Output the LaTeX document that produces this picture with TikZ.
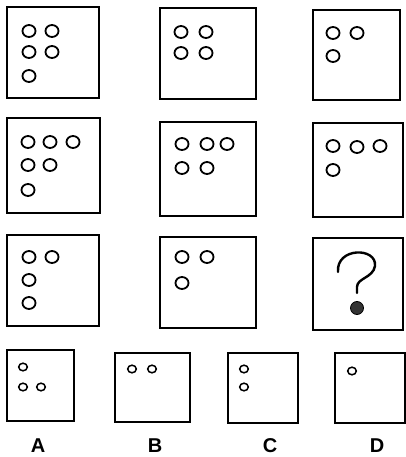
\documentclass[tikz,border=0pt]{standalone}
\usepackage{fontspec}
\setsansfont{Liberation Sans}
\usepackage{tikz}

\begin{document}
\begin{tikzpicture}[x=1pt, y=-1pt,
		box/.style={line width=2pt},
		ring/.style={line width=1.8pt},
		small/.style={line width=1.5pt},
		letter/.style={font=\fontsize{20}{22}\selectfont\sffamily\bfseries}]
			\useasboundingbox (0,0) rectangle (406,457);
			% row 1
			\draw[box] (7,7) rectangle (99,98);
			\draw[box] (160,8) rectangle (256,99);
			\draw[box] (313,10) rectangle (400,100);
			\draw[ring] (29,31) ellipse (6.5pt and 6pt);
			\draw[ring] (52,31) ellipse (6.5pt and 6pt);
			\draw[ring] (29,52) ellipse (6.5pt and 6pt);
			\draw[ring] (52,52) ellipse (6.5pt and 6pt);
			\draw[ring] (29,76) ellipse (6.5pt and 6pt);
			\draw[ring] (181,32) ellipse (6.5pt and 6pt);
			\draw[ring] (206,32) ellipse (6.5pt and 6pt);
			\draw[ring] (181,53) ellipse (6.5pt and 6pt);
			\draw[ring] (206,53) ellipse (6.5pt and 6pt);
			\draw[ring] (333,33) ellipse (6.5pt and 6pt);
			\draw[ring] (357,33) ellipse (6.5pt and 6pt);
			\draw[ring] (333,56) ellipse (6.5pt and 6pt);
			% row 2
			\draw[box] (7,118) rectangle (100,213);
			\draw[box] (160,122) rectangle (256,216);
			\draw[box] (313,123) rectangle (403,217);
			\draw[ring] (28,142) ellipse (6.5pt and 6pt);
			\draw[ring] (50,142) ellipse (6.5pt and 6pt);
			\draw[ring] (73,142) ellipse (6.5pt and 6pt);
			\draw[ring] (28,165) ellipse (6.5pt and 6pt);
			\draw[ring] (50,165) ellipse (6.5pt and 6pt);
			\draw[ring] (28,190) ellipse (6.5pt and 6pt);
			\draw[ring] (182,144) ellipse (6.5pt and 6pt);
			\draw[ring] (207,144) ellipse (6.5pt and 6pt);
			\draw[ring] (227,144) ellipse (6.5pt and 6pt);
			\draw[ring] (182,168) ellipse (6.5pt and 6pt);
			\draw[ring] (207,168) ellipse (6.5pt and 6pt);
			\draw[ring] (333,146) ellipse (6.5pt and 6pt);
			\draw[ring] (357,147) ellipse (6.5pt and 6pt);
			\draw[ring] (380,146) ellipse (6.5pt and 6pt);
			\draw[ring] (333,170) ellipse (6.5pt and 6pt);
			% row 3
			\draw[box] (7,235) rectangle (99,326);
			\draw[box] (160,237) rectangle (256,328);
			\draw[box] (313,238) rectangle (403,330);
			\draw[ring] (29,257) ellipse (6.5pt and 6pt);
			\draw[ring] (52,257) ellipse (6.5pt and 6pt);
			\draw[ring] (29,280) ellipse (6.5pt and 6pt);
			\draw[ring] (29,303) ellipse (6.5pt and 6pt);
			\draw[ring] (182,257) ellipse (6.5pt and 6pt);
			\draw[ring] (207,257) ellipse (6.5pt and 6pt);
			\draw[ring] (182,283) ellipse (6.5pt and 6pt);
			% question mark
			\draw[line width=2.4pt, line cap=round] (338,272) .. controls (336,247) and (377,247) .. (375,266)
				.. controls (373,278) and (357,278) .. (357,287) -- (357,293);
			\filldraw[fill=gray!40!black, draw=black, line width=0.8pt] (357,308) circle (6.5pt);
			% answers
			\draw[box] (7,350) rectangle (74,421);
			\draw[box] (115,353) rectangle (190,422);
			\draw[box] (228,353) rectangle (298,423);
			\draw[box] (335,353) rectangle (405,423);
			\draw[small] (23,367) ellipse (4.3pt and 3.8pt);
			\draw[small] (23,387) ellipse (4.3pt and 3.8pt);
			\draw[small] (41,387) ellipse (4.3pt and 3.8pt);
			\draw[small] (132,369) ellipse (4.3pt and 3.8pt);
			\draw[small] (152,369) ellipse (4.3pt and 3.8pt);
			\draw[small] (244,369) ellipse (4.3pt and 3.8pt);
			\draw[small] (244,387) ellipse (4.3pt and 3.8pt);
			\draw[small] (352,371) ellipse (4.3pt and 3.8pt);
			\node[letter] (labA) at (38,446) {A};
			\node[letter] (labB) at (155,446) {B};
			\node[letter] (labC) at (270,446) {C};
			\node[letter] (labD) at (377,446) {D};
	\end{tikzpicture}
\end{document}
